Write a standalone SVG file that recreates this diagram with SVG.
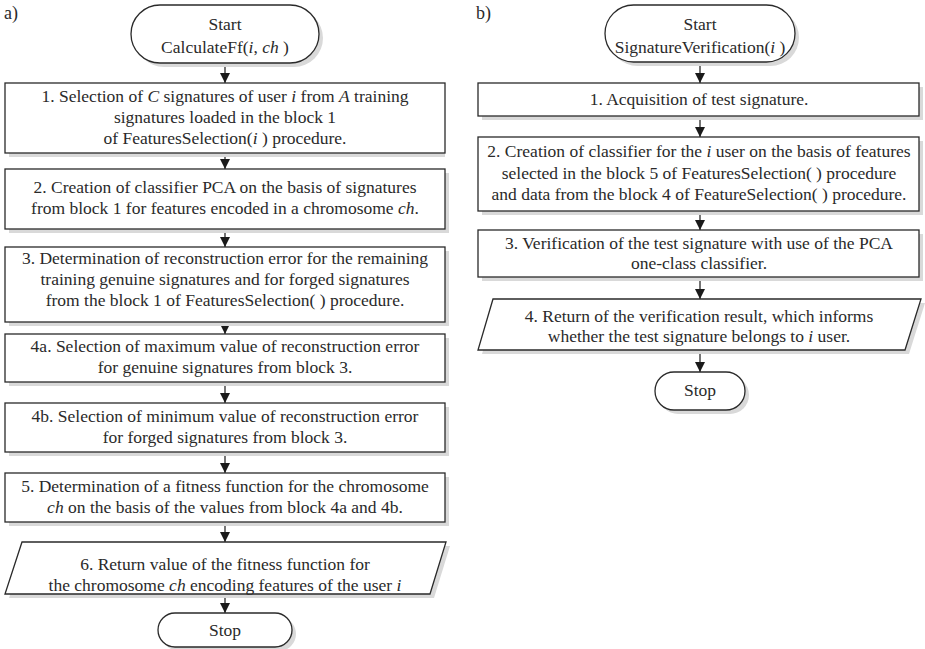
<svg xmlns="http://www.w3.org/2000/svg" width="925" height="649" viewBox="0 0 925 649">
<style>
text{font-family:"Liberation Serif","Times New Roman",serif;font-size:17.5px;fill:#2a2a2a;text-anchor:middle}
.lbl{text-anchor:start;font-size:18px}
.i{font-style:italic}
.sh{fill:#d9d9d9;stroke:none}
.bx{fill:#fff;stroke:#2a2a2a;stroke-width:1.3}
.cn{stroke:#2a2a2a;stroke-width:1.3;fill:none}
</style>
<defs>
<marker id="ah" viewBox="0 0 10 10" refX="10" refY="5" markerWidth="10" markerHeight="10" markerUnits="userSpaceOnUse" orient="auto">
<path d="M0,0 L10,5 L0,10 z" fill="#1a1a1a"/>
</marker>
</defs>
<rect width="925" height="649" fill="#fff"/>
<text class="lbl" x="4" y="19">a)</text>
<text class="lbl" x="476" y="19">b)</text>

<g id="connectors">
<line class="cn" x1="225" y1="63" x2="225" y2="83" marker-end="url(#ah)"/>
<line class="cn" x1="225" y1="153" x2="225" y2="169" marker-end="url(#ah)"/>
<line class="cn" x1="225" y1="229" x2="225" y2="247" marker-end="url(#ah)"/>
<line class="cn" x1="225" y1="322" x2="225" y2="334" marker-end="url(#ah)"/>
<line class="cn" x1="225" y1="382" x2="225" y2="403" marker-end="url(#ah)"/>
<line class="cn" x1="225" y1="452" x2="225" y2="473" marker-end="url(#ah)"/>
<line class="cn" x1="225" y1="522" x2="225" y2="542" marker-end="url(#ah)"/>
<line class="cn" x1="225" y1="594" x2="225" y2="613" marker-end="url(#ah)"/>
<line class="cn" x1="700" y1="62" x2="700" y2="83" marker-end="url(#ah)"/>
<line class="cn" x1="700" y1="116" x2="700" y2="137" marker-end="url(#ah)"/>
<line class="cn" x1="700" y1="211" x2="700" y2="230" marker-end="url(#ah)"/>
<line class="cn" x1="700" y1="277" x2="700" y2="299" marker-end="url(#ah)"/>
<line class="cn" x1="700" y1="350" x2="700" y2="372" marker-end="url(#ah)"/>
</g>

<g id="a-start">
<rect class="sh" x="135" y="9" width="188" height="58" rx="29"/>
<rect class="bx" x="131" y="5" width="188" height="58" rx="29"/>
<text x="225" y="30">Start</text>
<text x="225" y="53">CalculateFf(<tspan class="i">i</tspan>, <tspan class="i">ch</tspan> )</text>
</g>
<g id="a-1">
<rect class="sh" x="9" y="87" width="436" height="70"/>
<rect class="bx" x="5" y="83" width="440" height="70"/>
<text x="225" y="102">1. Selection of <tspan class="i">C</tspan> signatures of user <tspan class="i">i</tspan> from <tspan class="i">A</tspan> training</text>
<text x="225" y="123">signatures loaded in the block 1</text>
<text x="225" y="144">of FeaturesSelection(<tspan class="i">i</tspan> ) procedure.</text>
</g>
<g id="a-2">
<rect class="sh" x="9" y="173" width="440" height="60"/>
<rect class="bx" x="5" y="169" width="440" height="60"/>
<text x="225" y="193">2. Creation of classifier PCA on the basis of signatures</text>
<text x="225" y="214">from block 1 for features encoded in a chromosome <tspan class="i">ch</tspan>.</text>
</g>
<g id="a-3">
<rect class="sh" x="9" y="251" width="440" height="75"/>
<rect class="bx" x="5" y="247" width="440" height="75"/>
<text x="225" y="264">3. Determination of reconstruction error for the remaining</text>
<text x="225" y="285">training genuine signatures and for forged signatures</text>
<text x="225" y="306">from the block 1 of FeaturesSelection( ) procedure.</text>
</g>
<g id="a-4a">
<rect class="sh" x="9" y="338" width="440" height="48"/>
<rect class="bx" x="5" y="334" width="440" height="48"/>
<text x="225" y="352">4a. Selection of maximum value of reconstruction error</text>
<text x="225" y="373">for genuine signatures from block 3.</text>
</g>
<g id="a-4b">
<rect class="sh" x="9" y="407" width="440" height="49"/>
<rect class="bx" x="5" y="403" width="440" height="49"/>
<text x="225" y="422">4b. Selection of minimum value of reconstruction error</text>
<text x="225" y="443">for forged signatures from block 3.</text>
</g>
<g id="a-5">
<rect class="sh" x="9" y="477" width="440" height="49"/>
<rect class="bx" x="5" y="473" width="440" height="49"/>
<text x="225" y="492">5. Determination of a fitness function for the chromosome</text>
<text x="225" y="513"><tspan class="i">ch</tspan> on the basis of the values from block 4a and 4b.</text>
</g>
<g id="a-6">
<polygon class="sh" points="26,546 450,546 434,598 9,598"/>
<polygon class="bx" points="22,542 446,542 430,594 5,594"/>
<text x="225" y="570">6. Return value of the fitness function for</text>
<text x="225" y="591">the chromosome <tspan class="i">ch</tspan> encoding features of the user <tspan class="i">i</tspan></text>
</g>
<g id="a-stop">
<rect class="sh" x="162" y="617" width="134" height="34" rx="17"/>
<rect class="bx" x="158" y="613" width="134" height="34" rx="17"/>
<text x="225" y="636">Stop</text>
</g>

<g id="b-start">
<rect class="sh" x="609" y="9" width="190" height="57" rx="28.5"/>
<rect class="bx" x="605" y="5" width="190" height="57" rx="28.5"/>
<text x="700" y="30">Start</text>
<text x="700" y="53">SignatureVerification(<tspan class="i">i</tspan> )</text>
</g>
<g id="b-1">
<rect class="sh" x="482" y="87" width="441" height="33"/>
<rect class="bx" x="478" y="83" width="441" height="33"/>
<text x="699" y="105">1. Acquisition of test signature.</text>
</g>
<g id="b-2">
<rect class="sh" x="482" y="141" width="441" height="74"/>
<rect class="bx" x="478" y="137" width="441" height="74"/>
<text x="699" y="157">2. Creation of classifier for the <tspan class="i">i</tspan> user on the basis of features</text>
<text x="699" y="179">selected in the block 5 of  FeaturesSelection( ) procedure</text>
<text x="699" y="200">and data from the block 4 of FeatureSelection( ) procedure.</text>
</g>
<g id="b-3">
<rect class="sh" x="482" y="234" width="441" height="47"/>
<rect class="bx" x="478" y="230" width="441" height="47"/>
<text x="699" y="249">3. Verification of the test signature with use of the PCA</text>
<text x="699" y="269">one-class classifier.</text>
</g>
<g id="b-4">
<polygon class="sh" points="497,303 925,303 909,354 482,354"/>
<polygon class="bx" points="493,299 921,299 905,350 478,350"/>
<text x="699" y="322">4. Return of the verification result, which informs</text>
<text x="699" y="342">whether the test signature belongs to <tspan class="i">i</tspan> user.</text>
</g>
<g id="b-stop">
<rect class="sh" x="659" y="376" width="90" height="38" rx="19"/>
<rect class="bx" x="655" y="372" width="90" height="38" rx="19"/>
<text x="700" y="396">Stop</text>
</g>
</svg>
